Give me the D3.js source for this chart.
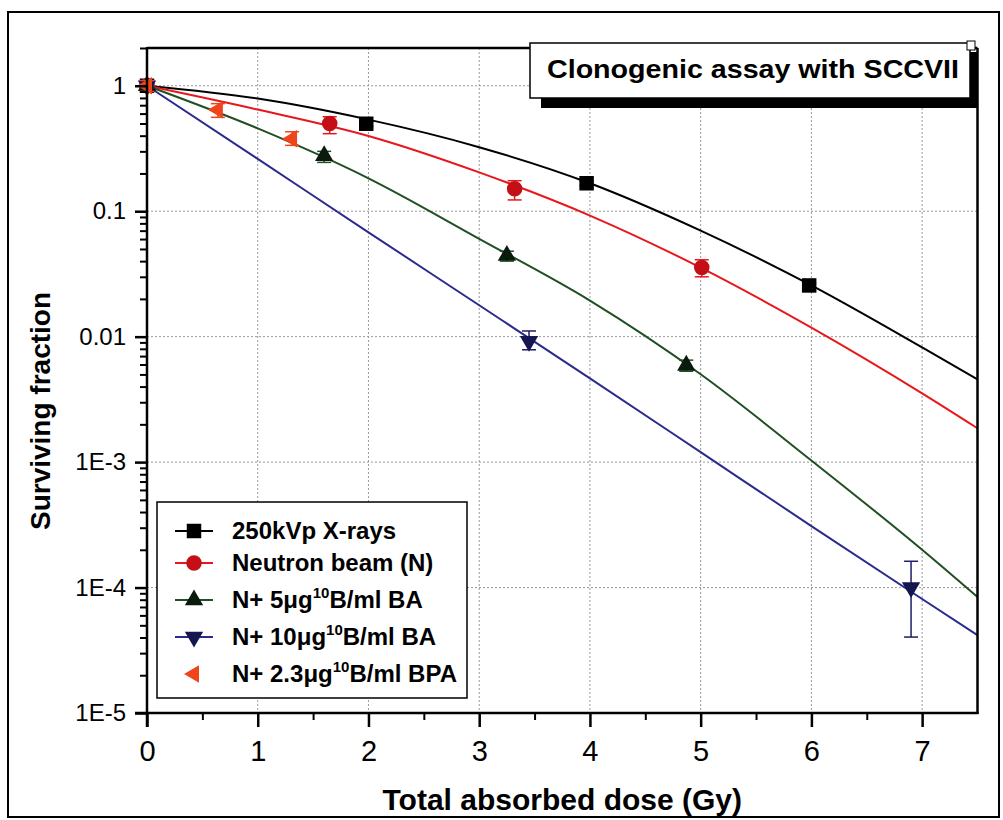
<!DOCTYPE html>
<html>
<head>
<meta charset="utf-8">
<script src="https://cdn.jsdelivr.net/npm/d3@7/dist/d3.min.js"></script>
<style>
  body { margin: 0; background: #fff; }
  text { font-family: "Liberation Sans", Arial, sans-serif; }
</style>
</head>
<body>
<svg id="chart" width="1003" height="820"></svg>
<script>
// fitted survival curves at these doses
const fitDose = [0, 1, 2, 3, 4, 5, 6, 7, 7.5];
const fitXray = [1, 0.79, 0.537, 0.324, 0.167, 0.070, 0.0256, 0.0082, 0.00456];
const fitNeutron = [1, 0.646, 0.398, 0.204, 0.0923, 0.0355, 0.0118, 0.00353, 0.00186];
const fitBA5 = [1, 0.457, 0.183, 0.0603, 0.0194, 0.00501, 0.00103, 0.000200, 0.000084];
const fitBA10 = [1, 0.261, 0.0679, 0.0178, 0.00465, 0.0012, 0.000309, 0.000081, 0.0000417];

// measured points
const xrayDose = [0, 1.98, 3.97, 5.98];
const xraySF = [1, 0.498, 0.167, 0.0256];
const xrayLo = [0.97, 0.48, 0.16, 0.0245];
const xrayHi = [1.03, 0.515, 0.174, 0.0267];

const neutronDose = [0, 1.65, 3.32, 5.01];
const neutronSF = [1, 0.50, 0.151, 0.0356];
const neutronLo = [0.95, 0.415, 0.123, 0.030];
const neutronHi = [1.05, 0.566, 0.175, 0.041];

const ba5Dose = [0, 1.60, 3.25, 4.87];
const ba5SF = [1, 0.277, 0.0443, 0.0059];
const ba5Lo = [0.96, 0.245, 0.040, 0.0053];
const ba5Hi = [1.04, 0.30, 0.048, 0.0065];

const ba10Dose = [0, 3.45, 6.90];
const ba10SF = [1, 0.0092, 0.0001];
const ba10Lo = [0.96, 0.00786, 0.0000403];
const ba10Hi = [1.04, 0.0111, 0.000162];

const bpaDose = [0, 0.64, 1.31];
const bpaSF = [1, 0.644, 0.378];
const bpaLo = [0.9, 0.56, 0.335];
const bpaHi = [1.1, 0.72, 0.43];

const xTicks = [0, 1, 2, 3, 4, 5, 6, 7];
const yTicks = [1, 0.1, 0.01, 1e-3, 1e-4, 1e-5];
const yTickLabels = ["1", "0.1", "0.01", "1E-3", "1E-4", "1E-5"];

const legendLabels = [
  ["250kVp X-rays"],
  ["Neutron beam (N)"],
  ["N+ 5\u03bcg", "10", "B/ml BA"],
  ["N+ 10\u03bcg", "10", "B/ml BA"],
  ["N+ 2.3\u03bcg", "10", "B/ml BPA"]
];
const titleText = "Clonogenic assay with SCCVII";

const svg = d3.select('#chart');
const pL = 147, pR = 977.5, pT = 48, pB = 713;

const x = d3.scaleLinear().domain([0, 7.5]).range([pL, pR]);
const y = d3.scaleLog().domain([1e-5, 2]).range([pB, pT]);

// outer frame
svg.append('rect')
  .attr('x', 8).attr('y', 12).attr('width', 991).attr('height', 805)
  .attr('fill', 'none').attr('stroke', '#000').attr('stroke-width', 2);

// grid
const grid = svg.append('g').attr('stroke', '#999').attr('stroke-width', 1).attr('stroke-dasharray', '2,2');
grid.selectAll('.vg').data(xTicks.slice(1)).enter().append('line')
  .attr('x1', d => x(d)).attr('x2', d => x(d)).attr('y1', pT).attr('y2', pB);
grid.selectAll('.hg').data(yTicks.slice(0, 5)).enter().append('line')
  .attr('x1', pL).attr('x2', pR).attr('y1', d => y(d)).attr('y2', d => y(d));

// series
const series = [
  { dose: xrayDose, sf: xraySF, lo: xrayLo, hi: xrayHi, fit: fitXray, line: '#000', fill: '#000', ebar: '#000', sym: d3.symbolSquare, size: 210, rot: 0 },
  { dose: neutronDose, sf: neutronSF, lo: neutronLo, hi: neutronHi, fit: fitNeutron, line: '#e8171c', fill: '#c40f16', ebar: '#e8171c', sym: d3.symbolCircle, size: 190, rot: 0 },
  { dose: ba5Dose, sf: ba5SF, lo: ba5Lo, hi: ba5Hi, fit: fitBA5, line: '#1f4f22', fill: '#0a1a0c', ebar: '#1f4f22', sym: d3.symbolTriangle, size: 145, rot: 0 },
  { dose: ba10Dose, sf: ba10SF, lo: ba10Lo, hi: ba10Hi, fit: fitBA10, line: '#2a2a8e', fill: '#15154f', ebar: '#1d1d6a', sym: d3.symbolTriangle, size: 145, rot: 180 },
  { dose: bpaDose, sf: bpaSF, lo: bpaLo, hi: bpaHi, fit: null, line: null, fill: '#f0451a', ebar: '#f0451a', sym: d3.symbolTriangle, size: 130, rot: -90 }
];

const line = d3.line()
  .x(d => x(d[0]))
  .y(d => y(d[1]))
  .curve(d3.curveMonotoneX);

series.forEach(s => {
  if (!s.fit) return;
  svg.append('path')
    .datum(fitDose.map((d, i) => [d, s.fit[i]]))
    .attr('fill', 'none')
    .attr('stroke', s.line)
    .attr('stroke-width', 2)
    .attr('d', line);
});

series.forEach(s => {
  const g = svg.append('g');
  s.dose.forEach((d, i) => {
    const cx = x(d);
    g.append('line').attr('x1', cx).attr('x2', cx)
      .attr('y1', y(s.lo[i])).attr('y2', y(s.hi[i]))
      .attr('stroke', s.ebar).attr('stroke-width', 1.5);
    [s.lo[i], s.hi[i]].forEach(v => {
      g.append('line').attr('x1', cx - 7).attr('x2', cx + 7)
        .attr('y1', y(v)).attr('y2', y(v))
        .attr('stroke', s.ebar).attr('stroke-width', 1.5);
    });
    g.append('path')
      .attr('d', d3.symbol().type(s.sym).size(s.size)())
      .attr('transform', `translate(${cx},${y(s.sf[i])}) rotate(${s.rot})`)
      .attr('fill', s.fill);
  });
});

// frame of plot
const frame = svg.append('g').attr('stroke', '#000').attr('stroke-width', 2.5);
frame.append('line').attr('x1', pL).attr('x2', pR).attr('y1', pT).attr('y2', pT);
frame.append('line').attr('x1', pR).attr('x2', pR).attr('y1', pT).attr('y2', pB + 1);
frame.append('line').attr('x1', pL).attr('x2', pL).attr('y1', pT - 1).attr('y2', pB + 14);
frame.append('line').attr('x1', pL - 12).attr('x2', pR + 1).attr('y1', pB).attr('y2', pB);

// x axis
const xAxis = svg.append('g')
  .attr('transform', `translate(0,${pB})`)
  .call(d3.axisBottom(x).tickValues(xTicks).tickSize(14).tickPadding(13).tickFormat(d3.format('d')));
xAxis.select('.domain').remove();
xAxis.selectAll('line').attr('stroke-width', 2.5);
xAxis.selectAll('text').attr('font-size', 29).attr('fill', '#000');

const xMinor = svg.append('g')
  .attr('transform', `translate(0,${pB})`)
  .call(d3.axisBottom(x).tickValues(d3.range(0.5, 7.5, 1)).tickSize(7).tickFormat(''));
xMinor.select('.domain').remove();
xMinor.selectAll('line').attr('stroke-width', 2);

// y axis
const yAxis = svg.append('g')
  .attr('transform', `translate(${pL},0)`)
  .call(d3.axisLeft(y).tickValues(yTicks).tickSize(12).tickPadding(9)
    .tickFormat((d, i) => yTickLabels[i]));
yAxis.select('.domain').remove();
yAxis.selectAll('line').attr('stroke-width', 2.5);
yAxis.selectAll('text').attr('font-size', 24).attr('fill', '#000');

const minorVals = [];
yTicks.slice(0, 5).forEach(t => {
  for (let k = 2; k <= 9; k++) minorVals.push(t / 10 * k);
});
minorVals.push(2);
const yMinor = svg.append('g')
  .attr('transform', `translate(${pL},0)`)
  .call(d3.axisLeft(y).tickValues(minorVals).tickSize(7).tickFormat(''));
yMinor.select('.domain').remove();
yMinor.selectAll('line').attr('stroke-width', 2);

// axis titles
svg.append('text')
  .attr('x', (pL + pR) / 2).attr('y', 810)
  .attr('text-anchor', 'middle')
  .attr('font-size', 30).attr('font-weight', 'bold')
  .text('Total absorbed dose (Gy)');

svg.append('text')
  .attr('transform', 'translate(50,411) rotate(-90)')
  .attr('text-anchor', 'middle')
  .attr('font-size', 28).attr('font-weight', 'bold')
  .text('Surviving fraction');

// title box
svg.append('rect').attr('x', 541).attr('y', 52).attr('width', 436).attr('height', 56).attr('fill', '#000');
svg.append('rect').attr('x', 530).attr('y', 43).attr('width', 440).attr('height', 55)
  .attr('fill', '#fff').attr('stroke', '#000').attr('stroke-width', 1.5);
svg.append('rect').attr('x', 967).attr('y', 41).attr('width', 8).attr('height', 9)
  .attr('fill', '#fff').attr('stroke', '#000').attr('stroke-width', 1);
svg.append('text')
  .attr('x', 547).attr('y', 78)
  .attr('font-size', 25).attr('font-weight', 'bold')
  .attr('textLength', 412).attr('lengthAdjust', 'spacingAndGlyphs')
  .text(titleText);

// legend
const lg = svg.append('g');
lg.append('rect').attr('x', 157).attr('y', 502).attr('width', 310).attr('height', 196)
  .attr('fill', '#fff').attr('stroke', '#000').attr('stroke-width', 1.5);
const rowY = [531, 563, 600, 637, 674];
series.forEach((s, i) => {
  const ry = rowY[i];
  if (s.line) {
    lg.append('line').attr('x1', 175).attr('x2', 213).attr('y1', ry).attr('y2', ry)
      .attr('stroke', s.line).attr('stroke-width', 2);
  }
  lg.append('path')
    .attr('d', d3.symbol().type(s.sym).size(s.size)())
    .attr('transform', `translate(194,${ry}) rotate(${s.rot})`)
    .attr('fill', s.fill);
  const t = lg.append('text')
    .attr('x', 232).attr('y', ry + 8)
    .attr('font-size', 24).attr('font-weight', 'bold');
  const parts = legendLabels[i];
  t.append('tspan').text(parts[0]);
  if (parts.length > 1) {
    t.append('tspan').attr('font-size', 15).attr('dy', -10).text(parts[1]);
    t.append('tspan').attr('dy', 10).text(parts[2]);
  }
});
</script>
</body>
</html>
